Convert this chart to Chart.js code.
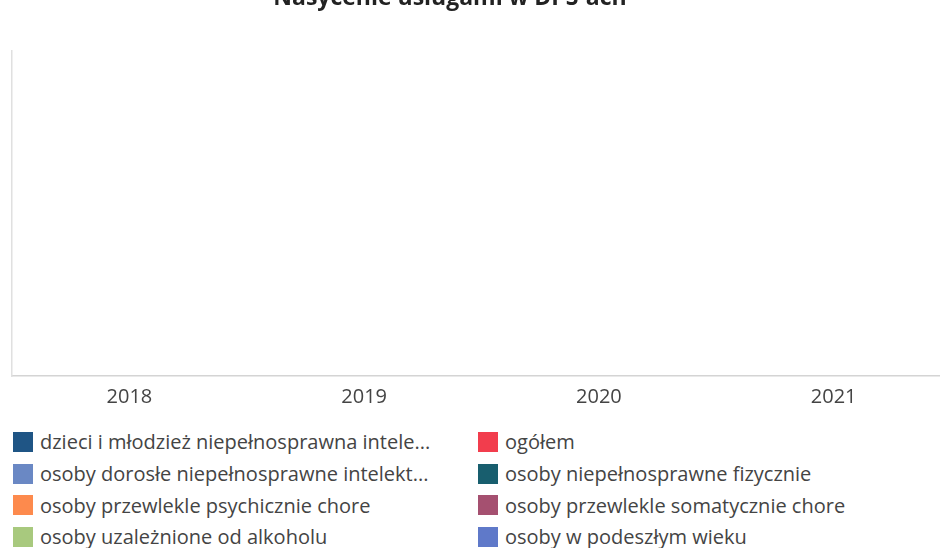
<!DOCTYPE html>
<html lang="pl">
<head>
<meta charset="utf-8">
<script src="https://cdn.jsdelivr.net/npm/chart.js@4/dist/chart.umd.min.js"></script>
<style>
  html, body { margin: 0; padding: 0; background: #fff; overflow: hidden; width: 940px; height: 548px; }
  #wrap { position: absolute; left: 0; top: -15px; width: 960px; height: 425px; }
  #legend {
    position: absolute; left: 13px; top: 426px; width: 927px;
    display: grid; grid-template-columns: 465px 462px; grid-auto-flow: column;
    grid-template-rows: repeat(4, 31.7px);
    font-family: "Open Sans", sans-serif; font-size: 20px; color: #444;
  }
  .item { display: flex; align-items: center; white-space: nowrap; }
  .sw { width: 20px; height: 20px; margin-right: 7px; flex: none; }
</style>
</head>
<body>
<div id="wrap"><canvas id="c"></canvas></div>
<div id="legend"></div>
<script>
// lata
const years = ['2018', '2019', '2020', '2021'];

// serie - na wykresie nie widać żadnych wartości
const seriesLabels = [
  'dzieci i młodzież niepełnosprawna intelektualnie',
  'osoby dorosłe niepełnosprawne intelektualnie',
  'osoby przewlekle psychicznie chore',
  'osoby uzależnione od alkoholu',
  'ogółem',
  'osoby niepełnosprawne fizycznie',
  'osoby przewlekle somatycznie chore',
  'osoby w podeszłym wieku',
];
const dzieciVals = [null, null, null, null];
const doroslVals = [null, null, null, null];
const psychVals = [null, null, null, null];
const alkoVals = [null, null, null, null];
const ogolemVals = [null, null, null, null];
const fizVals = [null, null, null, null];
const somatVals = [null, null, null, null];
const wiekVals = [null, null, null, null];
const seriesValues = [dzieciVals, doroslVals, psychVals, alkoVals, ogolemVals, fizVals, somatVals, wiekVals];
const seriesColors = ['#1f5585', '#6a88c4', '#fd8a4d', '#a8c97e', '#f23d4d', '#185e6e', '#a55070', '#5f79c9'];

const FONT = '"Open Sans", sans-serif';

// tytuł w oryginale jest wyśrodkowany na ok. 450 px, a nie nad całym obszarem
const titleShift = {
  id: 'titleShift',
  afterLayout(chart) {
    if (chart.titleBlock) {
      chart.titleBlock.left = 0;
      chart.titleBlock.right = 900;
    }
  },
};

const chart = new Chart(document.getElementById('c'), {
  type: 'bar',
  data: {
    labels: years,
    datasets: seriesLabels.map((label, i) => ({
      label,
      data: seriesValues[i],
      backgroundColor: seriesColors[i],
      borderWidth: 0,
    })),
  },
  options: {
    responsive: true,
    maintainAspectRatio: false,
    animation: false,
    layout: { padding: { left: 4, right: 9, top: 0, bottom: 0 } },
    plugins: {
      legend: { display: false },
      tooltip: { enabled: false },
      title: {
        display: true,
        text: 'Nasycenie usługami w DPS-ach',
        color: '#222',
        font: { family: FONT, size: 23, weight: 'bold' },
        padding: { top: 0, bottom: 38 },
      },
    },
    scales: {
      x: {
        grid: { display: false },
        border: { display: true, color: '#d4d4d4', width: 1.5 },
        ticks: { color: '#444', font: { family: FONT, size: 20 }, padding: 1 },
      },
      y: {
        min: 0,
        max: 1,
        grid: { display: false },
        border: { display: true, color: '#e0e0e0', width: 1.5 },
        ticks: { display: false },
      },
    },
  },
  plugins: [titleShift],
});

// legenda w dwóch kolumnach, długie nazwy skracane jak w oryginale
const measure = document.createElement('canvas').getContext('2d');
measure.font = '20px ' + FONT;
function shorten(text, maxW) {
  if (measure.measureText(text).width <= maxW) return text;
  let t = text;
  while (t.length && measure.measureText(t + '...').width > maxW) t = t.slice(0, -1);
  return t.trimEnd() + '...';
}
const legendEl = document.getElementById('legend');
chart.data.datasets.forEach(ds => {
  const item = document.createElement('div');
  item.className = 'item';
  const sw = document.createElement('span');
  sw.className = 'sw';
  sw.style.background = ds.backgroundColor;
  const txt = document.createElement('span');
  txt.textContent = shorten(ds.label, 392);
  item.appendChild(sw);
  item.appendChild(txt);
  legendEl.appendChild(item);
});
</script>
</body>
</html>
